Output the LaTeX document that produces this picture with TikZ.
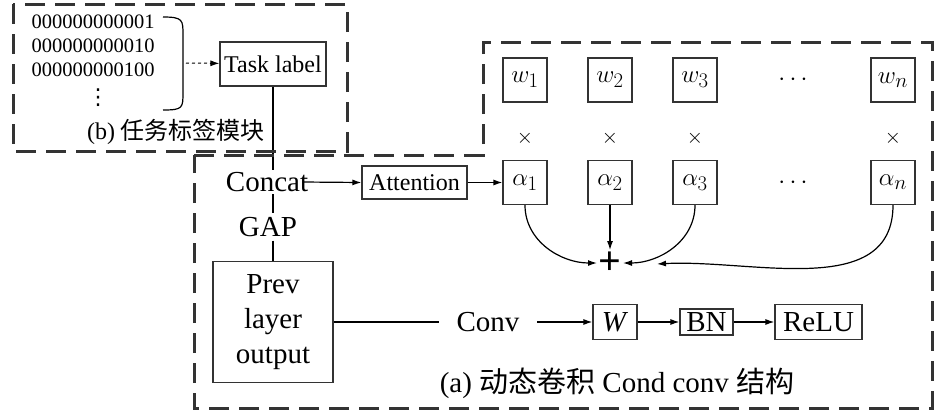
\documentclass[tikz,border=0pt]{standalone}
\usepackage{fontspec}
\setmainfont{Liberation Serif}
\newfontfamily\cjk{Noto Sans CJK SC}
\newfontfamily\sym{DejaVu Sans}
\usetikzlibrary{arrows.meta}
\newcommand\fbig{\fontsize{29}{35}\selectfont}
\newcommand\fmid{\fontsize{24}{29}\selectfont}
\newcommand\fbin{\fontsize{20.5}{24}\selectfont}
\newcommand\fmath{\fontsize{31}{36}\selectfont}
\definecolor{frame}{gray}{0.2}

\begin{document}
\begin{tikzpicture}[x=1pt,y=1pt,line width=1.2pt,
    >={Latex[length=9pt,width=6pt]},
    blk/.style={draw=black!80,inner sep=2pt,font=\fbig},
    wbox/.style={draw=black!80,minimum size=44pt,inner sep=0pt,font=\fmath},
    bin/.style={font=\fbin,inner sep=0pt},
    dashbox/.style={draw=frame,line width=3pt,dash pattern=on 20pt off 10pt}]
\useasboundingbox (0,0) rectangle (945,-413);

% (b) task label module
\node[bin] (b1) at (93,-22) {000000000001};
\node[bin] (b2) at (93,-46) {000000000010};
\node[bin] (b3) at (93,-70) {000000000100};
\node[bin,font=\fontsize{22}{26}\selectfont\sym] (b4) at (98,-98) {⋮};
\draw (163,-17) .. controls (183,-17) and (183,-20) .. (183,-35) -- (183,-92)
      .. controls (183,-108) and (183,-110) .. (163,-110);
\coordinate (bt) at (186,-63);
\node[blk,font=\fmid,minimum width=106pt,minimum height=44pt] (task) at (273,-64) {Task label};
\draw[->,dashed,line width=1pt] (bt) -- (task);
\node[font=\fmid] (capb) at (176,-132) {(b) {\cjk 任务标签模块}};

% (a) cond conv
\node[font=\fbig,inner sep=2pt] (concat) at (267,-182) {Concat};
\node[font=\fbig] (gap) at (268,-227) {GAP};
\node[blk,minimum width=120pt,minimum height=121pt,align=center] (prev) at (273,-322) {Prev\\layer\\output};
\draw (task.south) -- (task.south |- concat.north);
\draw (concat.south -| task) -- (gap.north -| task);
\draw (gap.south -| task) -- (prev.north -| task);

\node[blk,font=\fmid,minimum width=105pt,minimum height=33pt] (att) at (414.5,-182.5) {Attention};
\draw[->] ([xshift=-8pt]concat.east) -- (att.west);

\foreach \i/\x in {1/525,2/610,3/695,n/893}{
  \node[wbox] (w\i) at (\x,-80) {$w_\i$};
  \node[font=\fbin] (x\i) at (\x,-138) {$\times$};
  \node[wbox] (a\i) at (\x,-182.5) {$\alpha_\i$};
}
\node[font=\fmid] (wdots) at (793,-80) {$\cdots$};
\node[font=\fmid] (adots) at (793,-182.5) {$\cdots$};
\draw[->] (att) -- (a1);

\node[font=\fontsize{40}{44}\selectfont\bfseries,inner sep=1pt] (plus) at (610,-263) {+};
\coordinate (sumr) at (657,-264);
\draw[->] (a1.south) to[out=-90,in=180] (plus.west);
\draw[->] (a2) -- (plus);
\draw[->] (a3.south) to[out=-90,in=0] (plus.east);
\draw[->] (an.south) to[out=-90,in=3] (sumr);

\node[font=\fbig,inner xsep=17pt] (conv) at (488,-322) {Conv};
\node[blk,minimum width=44pt,minimum height=35pt] (W) at (615,-322) {\textit{W}};
\node[blk,minimum width=53pt,minimum height=26pt,inner sep=0pt] (bn) at (706.5,-322) {BN};
\node[blk,minimum width=87pt,minimum height=35pt] (relu) at (818.5,-322) {ReLU};
\draw (prev) -- (conv);
\draw[->] (conv) -- (W);
\draw[->] (W) -- (bn);
\draw[->] (bn) -- (relu);
\node[font=\fbig] (capa) at (617,-383) {(a) {\cjk 动态卷积} Cond conv {\cjk 结构}};

% dashed frames
\draw[dashbox] (13,-4) rectangle (347,-151);
\draw[dashbox] (194,-155) -- (483,-155) -- (483,-42) -- (932,-42) -- (932,-408) -- (194,-408) -- cycle;
\end{tikzpicture}
\end{document}
